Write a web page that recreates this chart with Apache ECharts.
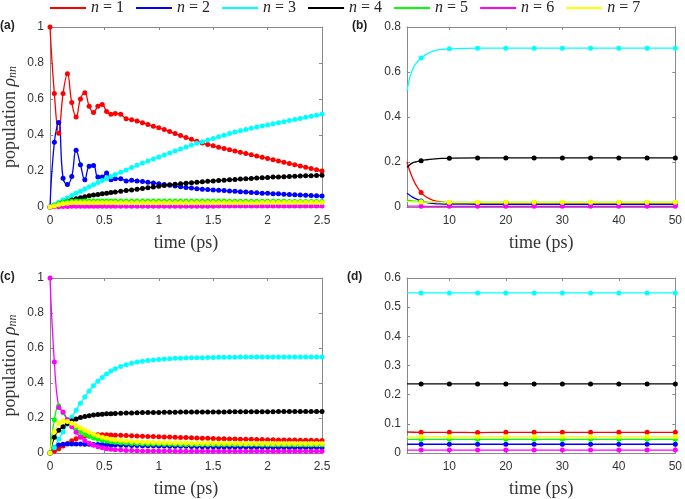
<!DOCTYPE html>
<html>
<head>
<meta charset="utf-8">
<script src="https://cdn.jsdelivr.net/npm/echarts@6/dist/echarts.min.js"></script>
<style>
  html, body { margin: 0; padding: 0; background: #fff; }
  #chart { width: 685px; height: 499px; }
</style>
</head>
<body>
<div id="chart"></div>
<script>
// series names and colours (n = 1 .. 7)
const names = ['n = 1', 'n = 2', 'n = 3', 'n = 4', 'n = 5', 'n = 6', 'n = 7'];
const colors = ['#ff0000', '#0000ff', '#00ffff', '#000000', '#00ff00', '#ff00ff', '#ffff00'];

// time grid for panels (a) and (c), ps
const tA = [0, 0.04, 0.08, 0.12, 0.16, 0.2, 0.24, 0.28, 0.32, 0.36, 0.4, 0.44, 0.48, 0.52, 0.56, 0.6,
  0.65, 0.7, 0.75, 0.8, 0.85, 0.9, 0.95, 1, 1.05, 1.1, 1.15, 1.2, 1.25, 1.3, 1.35, 1.4, 1.45, 1.5,
  1.55, 1.6, 1.65, 1.7, 1.75, 1.8, 1.85, 1.9, 1.95, 2, 2.05, 2.1, 2.15, 2.2, 2.25, 2.3, 2.35, 2.4, 2.45, 2.5];

// panel (a)
const a1 = [1.0, 0.63, 0.41, 0.63, 0.74, 0.58, 0.50, 0.60, 0.635, 0.56, 0.525, 0.56, 0.57, 0.53, 0.515, 0.52,
  0.515, 0.49, 0.485, 0.478, 0.468, 0.458, 0.449, 0.44, 0.43, 0.419, 0.408, 0.397, 0.386, 0.376, 0.365, 0.355, 0.347, 0.34,
  0.332, 0.325, 0.318, 0.311, 0.304, 0.297, 0.29, 0.283, 0.277, 0.27, 0.263, 0.256, 0.249, 0.242, 0.235, 0.228, 0.221, 0.214, 0.207, 0.2];
const a2 = [0, 0.36, 0.47, 0.16, 0.125, 0.17, 0.315, 0.235, 0.152, 0.226, 0.231, 0.167, 0.167, 0.189, 0.152, 0.157,
  0.157, 0.145, 0.148, 0.145, 0.141, 0.137, 0.133, 0.129, 0.125, 0.121, 0.117, 0.113, 0.109, 0.105, 0.102, 0.099, 0.097, 0.095,
  0.093, 0.091, 0.089, 0.087, 0.085, 0.083, 0.081, 0.079, 0.077, 0.076, 0.074, 0.073, 0.071, 0.07, 0.068, 0.067, 0.065, 0.064, 0.062, 0.061];
const a3 = [0, 0.014, 0.027, 0.04, 0.052, 0.064, 0.076, 0.088, 0.1, 0.112, 0.124, 0.136, 0.147, 0.158, 0.169, 0.18,
  0.193, 0.206, 0.219, 0.232, 0.244, 0.256, 0.267, 0.278, 0.289, 0.3, 0.311, 0.322, 0.333, 0.344, 0.354, 0.363, 0.372, 0.381,
  0.39, 0.399, 0.408, 0.416, 0.423, 0.43, 0.437, 0.444, 0.45, 0.456, 0.462, 0.468, 0.474, 0.48, 0.486, 0.492, 0.498, 0.504, 0.51, 0.516];
const a4 = [0, 0.008, 0.017, 0.025, 0.032, 0.039, 0.046, 0.052, 0.057, 0.062, 0.066, 0.07, 0.074, 0.077, 0.08, 0.083,
  0.087, 0.091, 0.095, 0.099, 0.103, 0.107, 0.111, 0.115, 0.119, 0.123, 0.126, 0.129, 0.132, 0.135, 0.138, 0.14, 0.143, 0.145,
  0.147, 0.149, 0.151, 0.153, 0.155, 0.157, 0.159, 0.161, 0.162, 0.164, 0.166, 0.167, 0.168, 0.17, 0.171, 0.172, 0.173, 0.174, 0.175, 0.176];
const a5 = [0, 0.01, 0.02, 0.026, 0.03, 0.032, 0.033, 0.032, 0.033, 0.034, 0.034, 0.034, 0.034, 0.034, 0.034, 0.034,
  0.034, 0.034, 0.034, 0.034, 0.034, 0.034, 0.034, 0.034, 0.034, 0.033, 0.033, 0.033, 0.033, 0.033, 0.033, 0.033, 0.033, 0.033,
  0.033, 0.033, 0.032, 0.032, 0.032, 0.032, 0.032, 0.032, 0.032, 0.032, 0.032, 0.032, 0.032, 0.031, 0.031, 0.031, 0.031, 0.031, 0.031, 0.031];
const a6 = [0, 0.001, 0.002, 0.003, 0.003, 0.004, 0.004, 0.004, 0.004, 0.004, 0.004, 0.004, 0.004, 0.004, 0.004, 0.004,
  0.004, 0.004, 0.004, 0.004, 0.004, 0.004, 0.004, 0.004, 0.004, 0.004, 0.004, 0.004, 0.004, 0.004, 0.004, 0.004, 0.004, 0.004,
  0.005, 0.005, 0.005, 0.005, 0.005, 0.005, 0.005, 0.005, 0.005, 0.005, 0.005, 0.005, 0.005, 0.005, 0.005, 0.005, 0.005, 0.005, 0.005, 0.005];
const a7 = [0, 0.006, 0.013, 0.018, 0.021, 0.023, 0.024, 0.024, 0.024, 0.024, 0.024, 0.024, 0.024, 0.024, 0.024, 0.024,
  0.024, 0.024, 0.024, 0.024, 0.024, 0.024, 0.024, 0.024, 0.024, 0.024, 0.024, 0.024, 0.024, 0.024, 0.024, 0.024, 0.024, 0.024,
  0.024, 0.024, 0.024, 0.024, 0.024, 0.024, 0.024, 0.024, 0.025, 0.025, 0.025, 0.025, 0.025, 0.025, 0.025, 0.025, 0.025, 0.025, 0.025, 0.025];

// panel (b): long-time continuation of (a)
const tB = [2.5, 3, 3.5, 4, 5, 6, 7, 8, 9, 10, 15, 20, 25, 30, 35, 40, 45, 50];
const b1 = [0.2, 0.16, 0.128, 0.102, 0.064, 0.043, 0.031, 0.025, 0.021, 0.019, 0.018, 0.018, 0.018, 0.018, 0.018, 0.018, 0.018, 0.018];
const b2 = [0.061, 0.052, 0.044, 0.037, 0.027, 0.02, 0.016, 0.014, 0.013, 0.013, 0.012, 0.012, 0.012, 0.012, 0.012, 0.012, 0.012, 0.012];
const b3 = [0.516, 0.575, 0.612, 0.635, 0.662, 0.68, 0.692, 0.698, 0.701, 0.703, 0.706, 0.706, 0.706, 0.706, 0.706, 0.706, 0.706, 0.706];
const b4 = [0.176, 0.188, 0.196, 0.2, 0.206, 0.21, 0.213, 0.215, 0.216, 0.217, 0.218, 0.218, 0.218, 0.218, 0.218, 0.218, 0.218, 0.218];
const b5 = [0.031, 0.029, 0.027, 0.026, 0.024, 0.022, 0.021, 0.021, 0.02, 0.02, 0.02, 0.02, 0.02, 0.02, 0.02, 0.02, 0.02, 0.02];
const b6 = [0.005, 0.004, 0.004, 0.004, 0.003, 0.003, 0.003, 0.003, 0.003, 0.003, 0.003, 0.003, 0.003, 0.003, 0.003, 0.003, 0.003, 0.003];
const b7 = [0.025, 0.024, 0.023, 0.023, 0.022, 0.022, 0.022, 0.021, 0.021, 0.021, 0.021, 0.021, 0.021, 0.021, 0.021, 0.021, 0.021, 0.021];

// panel (c)
const c1 = [0, 0.01, 0.025, 0.04, 0.055, 0.07, 0.082, 0.092, 0.098, 0.102, 0.104, 0.105, 0.105, 0.104, 0.103, 0.102,
  0.101, 0.1, 0.099, 0.097, 0.096, 0.095, 0.094, 0.093, 0.092, 0.091, 0.09, 0.089, 0.088, 0.087, 0.086, 0.085, 0.084, 0.083,
  0.082, 0.081, 0.08, 0.08, 0.079, 0.078, 0.078, 0.077, 0.077, 0.076, 0.076, 0.075, 0.075, 0.074, 0.074, 0.073, 0.073, 0.073, 0.072, 0.072];
const c2 = [0, 0.03, 0.046, 0.05, 0.052, 0.052, 0.052, 0.051, 0.05, 0.05, 0.049, 0.048, 0.048, 0.047, 0.046, 0.046,
  0.045, 0.044, 0.043, 0.043, 0.042, 0.041, 0.041, 0.04, 0.04, 0.039, 0.039, 0.038, 0.038, 0.037, 0.037, 0.036, 0.036, 0.036,
  0.035, 0.035, 0.035, 0.034, 0.034, 0.034, 0.033, 0.033, 0.033, 0.033, 0.032, 0.032, 0.032, 0.032, 0.031, 0.031, 0.031, 0.031, 0.031, 0.03];
const c3 = [0, 0.03, 0.08, 0.12, 0.165, 0.205, 0.245, 0.285, 0.32, 0.355, 0.385, 0.41, 0.432, 0.452, 0.468, 0.481,
  0.494, 0.505, 0.513, 0.52, 0.525, 0.529, 0.532, 0.535, 0.537, 0.539, 0.541, 0.542, 0.543, 0.544, 0.545, 0.545, 0.546, 0.546,
  0.547, 0.547, 0.547, 0.547, 0.548, 0.548, 0.548, 0.548, 0.548, 0.548, 0.549, 0.549, 0.549, 0.549, 0.549, 0.549, 0.549, 0.549, 0.549, 0.549];
const c4 = [0, 0.09, 0.13, 0.15, 0.168, 0.183, 0.195, 0.203, 0.209, 0.213, 0.217, 0.22, 0.222, 0.224, 0.225, 0.226,
  0.227, 0.228, 0.229, 0.23, 0.231, 0.231, 0.232, 0.232, 0.233, 0.233, 0.233, 0.234, 0.234, 0.234, 0.234, 0.235, 0.235, 0.235,
  0.235, 0.235, 0.236, 0.236, 0.236, 0.236, 0.236, 0.236, 0.236, 0.236, 0.236, 0.237, 0.237, 0.237, 0.237, 0.237, 0.237, 0.237, 0.237, 0.237];
const c5 = [0, 0.19, 0.27, 0.23, 0.19, 0.16, 0.138, 0.12, 0.106, 0.095, 0.086, 0.079, 0.073, 0.069, 0.065, 0.062,
  0.059, 0.057, 0.055, 0.054, 0.053, 0.052, 0.051, 0.051, 0.05, 0.05, 0.05, 0.049, 0.049, 0.049, 0.049, 0.049, 0.048, 0.048,
  0.048, 0.048, 0.048, 0.048, 0.048, 0.048, 0.048, 0.048, 0.047, 0.047, 0.047, 0.047, 0.047, 0.047, 0.047, 0.047, 0.047, 0.047, 0.047, 0.047];
const c6 = [1.0, 0.52, 0.26, 0.235, 0.19, 0.15, 0.118, 0.092, 0.072, 0.056, 0.045, 0.036, 0.03, 0.025, 0.021, 0.019,
  0.017, 0.015, 0.014, 0.013, 0.012, 0.012, 0.011, 0.011, 0.011, 0.011, 0.01, 0.01, 0.01, 0.01, 0.01, 0.01, 0.01, 0.01,
  0.01, 0.01, 0.01, 0.01, 0.01, 0.01, 0.01, 0.01, 0.01, 0.01, 0.01, 0.01, 0.01, 0.01, 0.01, 0.01, 0.01, 0.01, 0.01, 0.01];
const c7 = [0, 0.12, 0.17, 0.185, 0.18, 0.17, 0.157, 0.143, 0.13, 0.118, 0.107, 0.098, 0.09, 0.084, 0.079, 0.075,
  0.071, 0.068, 0.066, 0.064, 0.062, 0.061, 0.06, 0.059, 0.058, 0.058, 0.057, 0.057, 0.057, 0.056, 0.056, 0.056, 0.056, 0.056,
  0.056, 0.056, 0.056, 0.056, 0.055, 0.055, 0.055, 0.055, 0.055, 0.055, 0.055, 0.055, 0.055, 0.055, 0.055, 0.055, 0.055, 0.055, 0.055, 0.055];

// panel (d): long-time continuation of (c)
const tD = [2.5, 5, 10, 15, 20, 25, 30, 35, 40, 45, 50];
const d1 = [0.072, 0.071, 0.071, 0.07, 0.071, 0.071, 0.071, 0.071, 0.071, 0.071, 0.071];
const d2 = [0.03, 0.03, 0.03, 0.03, 0.03, 0.03, 0.03, 0.03, 0.03, 0.03, 0.03];
const d3 = [0.549, 0.549, 0.549, 0.549, 0.549, 0.549, 0.549, 0.549, 0.549, 0.549, 0.549];
const d4 = [0.237, 0.237, 0.237, 0.237, 0.237, 0.237, 0.237, 0.237, 0.237, 0.237, 0.237];
const d5 = [0.047, 0.047, 0.047, 0.047, 0.047, 0.047, 0.047, 0.047, 0.047, 0.047, 0.047];
const d6 = [0.01, 0.01, 0.01, 0.01, 0.01, 0.01, 0.01, 0.01, 0.01, 0.01, 0.01];
const d7 = [0.055, 0.056, 0.056, 0.056, 0.056, 0.056, 0.056, 0.056, 0.056, 0.056, 0.056];

const longTicks = [10, 20, 30, 40, 50];

const panels = [
  { t: tA, ys: [a1, a2, a3, a4, a5, a6, a7], allMarks: true },
  { t: tB, ys: [b1, b2, b3, b4, b5, b6, b7], allMarks: false },
  { t: tA, ys: [c1, c2, c3, c4, c5, c6, c7], allMarks: true },
  { t: tD, ys: [d1, d2, d3, d4, d5, d6, d7], allMarks: false }
];

const grids = [
  { left: 48, top: 27, width: 274, height: 180 },
  { left: 407, top: 27, width: 273, height: 180 },
  { left: 48, top: 278, width: 274, height: 179 },
  { left: 407, top: 278, width: 273, height: 179 }
];

const frame = '#8a8a8a';
const serif = 'Liberation Serif';
const sans = 'Liberation Sans';

function xAxisFor(i, top) {
  const long = i % 2 === 1;
  const ax = {
    type: 'value', gridIndex: i, position: top ? 'top' : 'bottom',
    min: long ? 2.5 : 0, max: long ? 50 : 2.5,
    axisLine: { show: true, onZero: false, lineStyle: { color: frame } },
    axisTick: { show: true, inside: true, length: 3, lineStyle: { color: frame } },
    splitLine: { show: false },
    axisLabel: { show: !top, color: '#333', fontSize: 12, fontFamily: sans, margin: 8 }
  };
  if (long) {
    ax.axisLabel.customValues = longTicks;
    ax.axisTick.customValues = longTicks;
  } else {
    ax.interval = 0.5;
  }
  if (!top) {
    ax.name = 'time (ps)';
    ax.nameLocation = 'middle';
    ax.nameGap = 27;
    ax.nameTextStyle = { fontFamily: serif, fontSize: 18, color: '#333' };
  }
  return ax;
}

function yAxisFor(i, right) {
  const maxes = [1, 0.8, 1, 0.6];
  const steps = [0.2, 0.2, 0.2, 0.1];
  const ax = {
    type: 'value', gridIndex: i, position: right ? 'right' : 'left',
    min: 0, max: maxes[i], interval: steps[i],
    axisLine: { show: true, onZero: false, lineStyle: { color: frame } },
    axisTick: { show: true, inside: true, length: 3, lineStyle: { color: frame } },
    splitLine: { show: false },
    axisLabel: { show: !right, color: '#333', fontSize: 12, fontFamily: sans, margin: 6 }
  };
  if (!right && i % 2 === 0) {
    ax.name = 'population {r|ρ}{s|nn}';
    ax.nameLocation = 'middle';
    ax.nameGap = 31;
    ax.nameTextStyle = {
      fontFamily: serif, fontSize: 18, color: '#333',
      rich: {
        r: { fontFamily: serif, fontSize: 18, fontStyle: 'italic', color: '#333' },
        s: { fontFamily: serif, fontSize: 12, fontStyle: 'italic', color: '#333', verticalAlign: 'bottom', padding: [6, 0, 0, 0] }
      }
    };
  }
  return ax;
}

const xAxes = [], yAxes = [];
for (let i = 0; i < 4; i++) { xAxes.push(xAxisFor(i, false)); yAxes.push(yAxisFor(i, false)); }
for (let i = 0; i < 4; i++) { xAxes.push(xAxisFor(i, true)); yAxes.push(yAxisFor(i, true)); }

const series = [];
panels.forEach((p, gi) => {
  p.ys.forEach((vals, k) => {
    const data = p.t.map((t, j) => {
      const marked = p.allMarks || (t % 5 === 0);
      return marked ? [t, vals[j]] : { value: [t, vals[j]], symbol: 'none' };
    });
    series.push({
      name: names[k], type: 'line', xAxisIndex: gi, yAxisIndex: gi,
      data: data, smooth: 0.45, clip: false,
      symbol: 'circle', symbolSize: 5, showSymbol: true,
      lineStyle: { width: 1.3, color: colors[k] },
      itemStyle: { color: colors[k] },
      emphasis: { disabled: true }
    });
  });
});

const chart = echarts.init(document.getElementById('chart'), null, { renderer: 'canvas' });
chart.setOption({
  animation: false,
  backgroundColor: '#fff',
  title: [
    { text: '(a)', left: 0, top: 20 },
    { text: '(b)', left: 352, top: 20 },
    { text: '(c)', left: 0, top: 271 },
    { text: '(d)', left: 347, top: 271 }
  ].map(o => Object.assign(o, { padding: 0, textStyle: { fontFamily: sans, fontSize: 12, fontWeight: 'bold', color: '#222' } })),
  legend: {
    data: names, top: 0, left: 50, padding: 0, itemWidth: 36, itemHeight: 2, itemGap: 12, icon: 'rect',
    formatter: name => '{i|n} = ' + name.slice(4),
    textStyle: {
      fontFamily: serif, fontSize: 16, color: '#222',
      rich: { i: { fontFamily: serif, fontStyle: 'italic', fontSize: 16, color: '#222' } }
    }
  },
  grid: grids,
  xAxis: xAxes,
  yAxis: yAxes,
  series: series
});
</script>
</body>
</html>
